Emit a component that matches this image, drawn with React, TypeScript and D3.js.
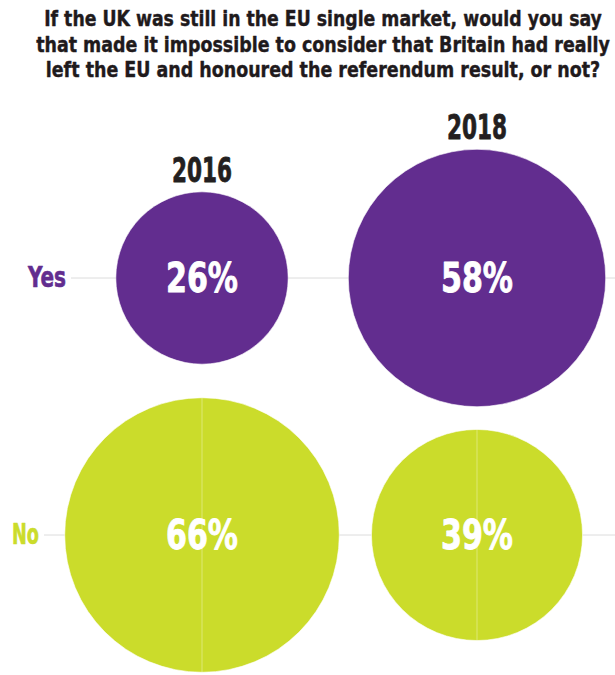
import React, { useLayoutEffect, useRef, useState } from "react";
import * as d3 from "d3";

const titleLines = [
  "If the UK was still in the EU single market, would you say",
  "that made it impossible to consider that Britain had really",
  "left the EU and honoured the referendum result, or not?",
];
const years = ["2016", "2018"];
const answers = ["Yes", "No"];
const yesValues = [26, 58];
const noValues = [66, 39];
const colors = ["#622D8F", "#CBDC2B"];

const W = 615;
const H = 675;
const FONT = "'Liberation Sans Narrow', 'DejaVu Sans Condensed', 'Roboto Condensed', Arial, sans-serif";

type FitProps = {
  x: number;
  y: number;
  width: number;
  anchor: "start" | "middle" | "end";
  size: number;
  fill: string;
  stroke?: number;
  children: React.ReactNode;
};

function FitText({ x, y, width, anchor, size, fill, stroke = 0, children }: FitProps) {
  const ref = useRef<SVGTextElement>(null);
  const [s, setS] = useState(1);
  useLayoutEffect(() => {
    if (ref.current) {
      const len = ref.current.getComputedTextLength();
      if (len > 0) setS(width / len);
    }
  }, [width, children]);
  return (
    <text
      ref={ref}
      transform={`translate(${x},${y}) scale(${s},1)`}
      textAnchor={anchor}
      fontSize={size}
      fontWeight="bold"
      fill={fill}
      stroke={stroke ? fill : "none"}
      strokeWidth={stroke}
      strokeLinejoin="round"
    >
      {children}
    </text>
  );
}

export default function App() {
  const x = d3.scalePoint<string>().domain(years).range([202, 477]);
  const y = d3.scalePoint<string>().domain(answers).range([278, 535]);
  const r = d3.scaleSqrt().domain([0, 100]).range([0, 169]);
  const series = [yesValues, noValues];
  const titleWidths = [558, 574, 555];
  const labelRight = [66, 39];

  const cells = answers.flatMap((a, ai) =>
    years.map((yr, yi) => ({ a, ai, yr, yi, v: series[ai][yi] }))
  );

  return (
    <svg
      width={W}
      height={H}
      style={{ position: "absolute", left: 0, top: 0, background: "#fff" }}
      fontFamily={FONT}
    >
      {titleLines.map((t, i) => (
        <FitText key={i} x={323} y={26 + i * 25.7} width={titleWidths[i]} anchor="middle" size={21.5} fill="#1f1a1c" stroke={0.4}>
          {t}
        </FitText>
      ))}

      {answers.map((a, ai) => (
        <g key={a}>
          <line
            x1={labelRight[ai] + 5}
            x2={W}
            y1={y(a)!}
            y2={y(a)!}
            stroke="#dcdcdc"
            strokeWidth={1}
          />
          <FitText x={labelRight[ai]} y={y(a)! + 9} width={ai === 0 ? 38 : 27} anchor="end" size={28} fill={colors[ai]} stroke={0.6}>
            {a}
          </FitText>
        </g>
      ))}

      {years.map((yr, yi) => {
        const top = y("Yes")! - r(yesValues[yi]);
        return (
          <FitText key={yr} x={x(yr)!} y={top - 10} width={60} anchor="middle" size={34} fill="#231F20" stroke={0.8}>
            {yr}
          </FitText>
        );
      })}

      {cells.map((c) => {
        const cx = x(c.yr)!;
        const cy = y(c.a)!;
        const rr = r(c.v);
        return (
          <g key={c.a + c.yr}>
            <circle cx={cx} cy={cy} r={rr} fill={colors[c.ai]} stroke="#fff" strokeOpacity={0.6} strokeWidth={1} />
            {c.ai === 1 && (
              <line
                x1={cx}
                x2={cx}
                y1={cy - rr}
                y2={cy + rr}
                stroke="#fff"
                strokeOpacity={0.35}
                strokeWidth={1}
              />
            )}
            <FitText x={cx} y={cy + 14} width={72} anchor="middle" size={40} fill="#fff" stroke={0.8}>
              {`${c.v}%`}
            </FitText>
          </g>
        );
      })}
    </svg>
  );
}
